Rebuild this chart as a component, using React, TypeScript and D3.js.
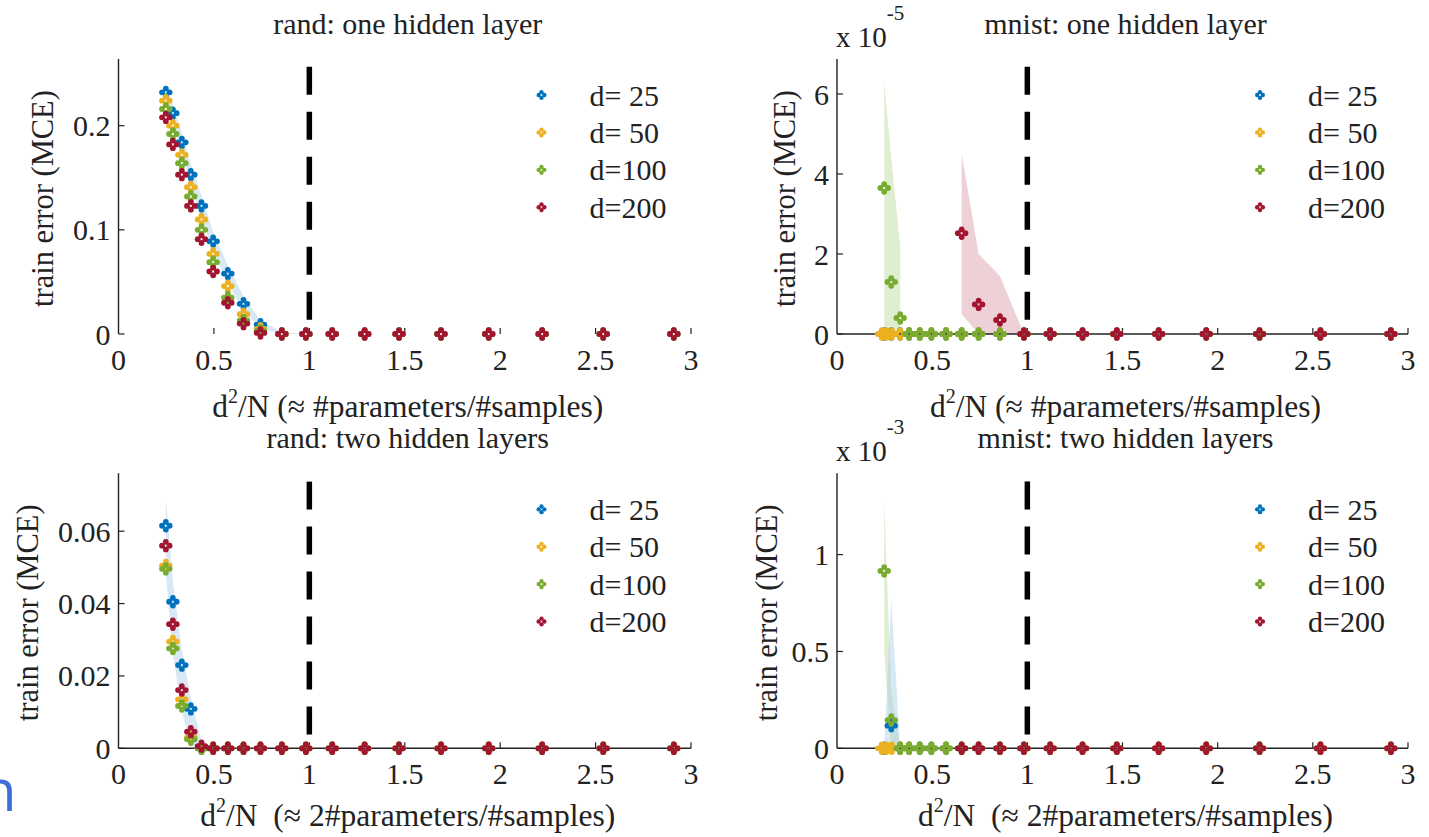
import React from 'react';
import * as d3 from 'd3';

// ---------- data ----------
const seriesColors = ['#0072BD', '#EDB120', '#77AC30', '#A2142F'];
const bandColors = ['#a9cde9', '#f3d98c', '#b9d89a', '#d99aa6'];
const legendLabels = ['d= 25', 'd= 50', 'd=100', 'd=200'];
const xTicks = [0, 0.5, 1, 1.5, 2, 2.5, 3];
const xTickLabels = ['0', '0.5', '1', '1.5', '2', '2.5', '3'];

// d^2/N sample grid
const ratioGrid = [0.248, 0.285, 0.332, 0.379, 0.435, 0.496, 0.573, 0.655, 0.744, 0.856, 0.982, 1.12, 1.29, 1.47, 1.69, 1.94, 2.22, 2.54, 2.91];
const mnistYellowX = [0.235, 0.26, 0.288, 0.332, 0.379, 0.435, 0.496, 0.573, 0.655, 0.744, 0.856, 0.982, 1.12, 1.29, 1.47, 1.69, 1.94, 2.22, 2.54, 2.91];
const mnistRedX = [0.655, 0.744, 0.856, 0.982, 1.12, 1.29, 1.47, 1.69, 1.94, 2.22, 2.54, 2.91];
const bandX3 = [0.248, 0.285, 0.332];
const bandX4 = [0.655, 0.744, 0.856, 0.982];

// rand: one hidden layer
const randOneD25 = [0.232, 0.212, 0.184, 0.153, 0.123, 0.089, 0.058, 0.029, 0.009, 0, 0, 0, 0, 0, 0, 0, 0, 0, 0];
const randOneD50 = [0.224, 0.200, 0.172, 0.141, 0.110, 0.077, 0.046, 0.019, 0.005, 0, 0, 0, 0, 0, 0, 0, 0, 0, 0];
const randOneD100 = [0.216, 0.192, 0.164, 0.132, 0.100, 0.069, 0.035, 0.013, 0.003, 0, 0, 0, 0, 0, 0, 0, 0, 0, 0];
const randOneD200 = [0.208, 0.182, 0.153, 0.123, 0.091, 0.060, 0.030, 0.010, 0.001, 0, 0, 0, 0, 0, 0, 0, 0, 0, 0];
const randOneBandHi = [0.238, 0.220, 0.193, 0.163, 0.133, 0.098, 0.066, 0.036, 0.013, 0.002, 0];
const randOneBandLo = [0.224, 0.203, 0.175, 0.143, 0.113, 0.079, 0.049, 0.022, 0.005, 0, 0];

// mnist: one hidden layer (x 1e-5)
const mnistOneD25 = [0, 0, 0, 0, 0, 0, 0, 0, 0, 0, 0, 0, 0, 0, 0, 0, 0, 0, 0];
const mnistOneD50 = [0, 0, 0, 0, 0, 0, 0, 0, 0, 0, 0, 0, 0, 0, 0, 0, 0, 0, 0, 0];
const mnistOneD100 = [3.65, 1.3, 0.4, 0, 0, 0, 0, 0, 0, 0, 0, 0, 0, 0, 0, 0, 0, 0, 0];
const mnistOneD200 = [2.52, 0.74, 0.35, 0, 0, 0, 0, 0, 0, 0, 0, 0];
const mnistOneGreenHi = [6.3, 4.4, 2.2];
const mnistOneGreenLo = [0.2, 0, 0];
const mnistOneRedHi = [4.5, 2.0, 1.45, 0];
const mnistOneRedLo = [0.5, 0, 0, 0];

// rand: two hidden layers
const randTwoD25 = [0.0615, 0.0405, 0.023, 0.0109, 0, 0, 0, 0, 0, 0, 0, 0, 0, 0, 0, 0, 0, 0, 0];
const randTwoD50 = [0.0505, 0.0295, 0.0135, 0.003, 0, 0, 0, 0, 0, 0, 0, 0, 0, 0, 0, 0, 0, 0, 0];
const randTwoD100 = [0.0496, 0.0276, 0.0117, 0.0025, 0, 0, 0, 0, 0, 0, 0, 0, 0, 0, 0, 0, 0, 0, 0];
const randTwoD200 = [0.056, 0.0343, 0.0161, 0.0046, 0.0006, 0, 0, 0, 0, 0, 0, 0, 0, 0, 0, 0, 0, 0, 0];
const randTwoBandHi = [0.069, 0.046, 0.027, 0.014, 0.002, 0];
const randTwoBandLo = [0.048, 0.026, 0.010, 0.001, 0, 0];

// mnist: two hidden layers (x 1e-3)
const mnistTwoD25 = [0, 0.117, 0, 0, 0, 0, 0, 0, 0, 0, 0, 0, 0, 0, 0, 0, 0, 0, 0];
const mnistTwoD50 = [0, 0, 0, 0, 0, 0, 0, 0, 0, 0, 0, 0, 0, 0, 0, 0, 0, 0, 0, 0];
const mnistTwoD100 = [0.916, 0.146, 0, 0, 0, 0, 0, 0, 0, 0, 0, 0, 0, 0, 0, 0, 0, 0, 0];
const mnistTwoD200 = [0, 0, 0, 0, 0, 0, 0, 0, 0, 0, 0, 0];
const mnistTwoGreenHi = [1.27, 0.3, 0];
const mnistTwoGreenLo = [0.5, 0, 0];
const mnistTwoBlueHi = [0, 0.77, 0];
const mnistTwoBlueLo = [0, 0, 0];

const titles = ['rand: one hidden layer', 'mnist: one hidden layer', 'rand: two hidden layers', 'mnist: two hidden layers'];
const xLabelMain = ['(\u2248 #parameters/#samples)', '(\u2248 #parameters/#samples)', '\u00a0(\u2248 2#parameters/#samples)', '\u00a0(\u2248 2#parameters/#samples)'];
const yLabel = 'train error (MCE)';
const yDomainsMax = [0.264, 6.875, 0.076, 1.42];
const yTicks = [[0, 0.1, 0.2], [0, 2, 4, 6], [0, 0.02, 0.04, 0.06], [0, 0.5, 1]];
const yTickLabels = [['0', '0.1', '0.2'], ['0', '2', '4', '6'], ['0', '0.02', '0.04', '0.06'], ['0', '0.5', '1']];
const exponents = [null, '-5', null, '-3'];
const thresholdX = 1;
const thresholdTop = [0.2566, 6.68, 0.0737, 1.378];

type Series = { x: number[]; y: number[] };
type Band = { x: number[]; lo: number[]; hi: number[]; color: number };

const panelSeries: Series[][] = [
  [
    { x: ratioGrid, y: randOneD25 },
    { x: ratioGrid, y: randOneD50 },
    { x: ratioGrid, y: randOneD100 },
    { x: ratioGrid, y: randOneD200 },
  ],
  [
    { x: ratioGrid, y: mnistOneD25 },
    { x: mnistYellowX, y: mnistOneD50 },
    { x: ratioGrid, y: mnistOneD100 },
    { x: mnistRedX, y: mnistOneD200 },
  ],
  [
    { x: ratioGrid, y: randTwoD25 },
    { x: ratioGrid, y: randTwoD50 },
    { x: ratioGrid, y: randTwoD100 },
    { x: ratioGrid, y: randTwoD200 },
  ],
  [
    { x: ratioGrid, y: mnistTwoD25 },
    { x: mnistYellowX, y: mnistTwoD50 },
    { x: ratioGrid, y: mnistTwoD100 },
    { x: mnistRedX, y: mnistTwoD200 },
  ],
];

const panelBands: Band[][] = [
  [{ x: ratioGrid.slice(0, 11), lo: randOneBandLo, hi: randOneBandHi, color: 0 }],
  [
    { x: bandX3, lo: mnistOneGreenLo, hi: mnistOneGreenHi, color: 2 },
    { x: bandX4, lo: mnistOneRedLo, hi: mnistOneRedHi, color: 3 },
  ],
  [{ x: ratioGrid.slice(0, 6), lo: randTwoBandLo, hi: randTwoBandHi, color: 0 }],
  [
    { x: bandX3, lo: mnistTwoGreenLo, hi: mnistTwoGreenHi, color: 2 },
    { x: bandX3, lo: mnistTwoBlueLo, hi: mnistTwoBlueHi, color: 0 },
  ],
];

// ---------- layout ----------
const FRAMES = [
  { x0: 118.5, x1: 691, yTop: 59, yBase: 334, baseline: false, yLabelOff: 66, xLabelOff: 83 },
  { x0: 837, x1: 1408, yTop: 59, yBase: 334, baseline: true, yLabelOff: 42, xLabelOff: 83 },
  { x0: 118.5, x1: 691, yTop: 473.3, yBase: 748.3, baseline: true, yLabelOff: 81, xLabelOff: 78 },
  { x0: 837, x1: 1408, yTop: 473.3, yBase: 748.3, baseline: true, yLabelOff: 60, xLabelOff: 78 },
];
const SERIF = { fontFamily: 'Liberation Serif, Times New Roman, serif' };
const INK = '#222';

function Marker({ cx, cy, color, s = 1 }: { cx: number; cy: number; color: string; s?: number }) {
  const o = 3.8 * s;
  const r = 2.9 * s;
  return (
    <g fill={color}>
      <circle cx={cx + o} cy={cy} r={r} />
      <circle cx={cx - o} cy={cy} r={r} />
      <circle cx={cx} cy={cy + o} r={r} />
      <circle cx={cx} cy={cy - o} r={r} />
    </g>
  );
}

function Panel({ idx }: { idx: number }) {
  const f = FRAMES[idx];
  const x = d3.scaleLinear().domain([0, 3]).range([f.x0, f.x1]);
  const y = d3.scaleLinear().domain([0, yDomainsMax[idx]]).range([f.yBase, f.yTop]);
  const cxTitle = (f.x0 + f.x1) / 2 + 3;
  const legendX = f.x0 + 423;
  const legendY0 = f.yTop + 36;
  const legendStep = 37.4;
  const area = d3
    .area<[number, number, number]>()
    .x((d) => x(d[0]))
    .y0((d) => y(Math.max(0, d[1])))
    .y1((d) => y(d[2]));
  return (
    <g>
      {panelBands[idx].map((b, i) => (
        <path
          key={'b' + i}
          d={area(b.x.map((xv, k) => [xv, b.lo[k], b.hi[k]] as [number, number, number])) || ''}
          fill={bandColors[b.color]}
          fillOpacity={0.45}
        />
      ))}
      <line x1={f.x0} x2={f.x0} y1={f.yTop} y2={f.yBase} stroke={INK} strokeWidth={1.4} />
      {f.baseline && <line x1={f.x0} x2={f.x1} y1={f.yBase} y2={f.yBase} stroke={INK} strokeWidth={1.4} />}
      {yTicks[idx].map((t, i) => (
        <g key={'yt' + i}>
          <line x1={f.x0} x2={f.x0 + 6} y1={y(t)} y2={y(t)} stroke={INK} strokeWidth={1.2} />
          <text x={f.x0 - 8} y={y(t)} dy="0.35em" textAnchor="end" fontSize={30} style={SERIF} fill={INK}>
            {yTickLabels[idx][i]}
          </text>
        </g>
      ))}
      {xTicks.map((t, i) => (
        <g key={'xt' + i}>
          {i > 0 && <line x1={x(t)} x2={x(t)} y1={f.yBase} y2={f.yBase - 6} stroke={INK} strokeWidth={1.2} />}
          <text x={x(t)} y={f.yBase + 36} textAnchor="middle" fontSize={30} style={SERIF} fill={INK}>
            {xTickLabels[i]}
          </text>
        </g>
      ))}
      <line
        x1={x(thresholdX)}
        x2={x(thresholdX)}
        y1={y(thresholdTop[idx])}
        y2={y(0)}
        stroke="#000"
        strokeWidth={5.5}
        strokeDasharray="28 17"
      />
      {panelSeries[idx].map((s, si) =>
        s.y.map((v, k) => <Marker key={si + '-' + k} cx={x(s.x[k])} cy={y(v)} color={seriesColors[si]} />)
      )}
      {legendLabels.map((l, i) => (
        <g key={'lg' + i}>
          <Marker cx={legendX} cy={legendY0 + i * legendStep} color={seriesColors[i]} s={0.75} />
          <text x={legendX + 48} y={legendY0 + i * legendStep} dy="0.35em" fontSize={30} style={SERIF} fill={INK}>
            {l}
          </text>
        </g>
      ))}
      <text x={cxTitle} y={f.yTop - 25} textAnchor="middle" fontSize={30} style={SERIF} fill={INK}>
        {titles[idx]}
      </text>
      <text x={cxTitle} y={f.yBase + f.xLabelOff} textAnchor="middle" fontSize={31.5} style={SERIF} fill={INK}>
        d<tspan dy={-14} fontSize={20}>2</tspan>
        <tspan dy={14}>/N {xLabelMain[idx]}</tspan>
      </text>
      <text
        transform={`translate(${f.x0 - f.yLabelOff},${(f.yTop + f.yBase) / 2 + 2}) rotate(-90)`}
        textAnchor="middle"
        fontSize={30.5}
        style={SERIF}
        fill={INK}
      >
        {yLabel}
      </text>
      {exponents[idx] && (
        <text x={f.x0 - 1} y={f.yTop - 12} fontSize={29} style={SERIF} fill={INK}>
          x 10<tspan dy={-27} fontSize={21}>{exponents[idx]}</tspan>
        </text>
      )}
    </g>
  );
}

export default function App() {
  return (
    <svg
      width={1429}
      height={837}
      viewBox="0 0 1429 837"
      style={{ position: 'absolute', left: 0, top: 0, background: '#fff' }}
    >
      <rect x={0} y={0} width={1429} height={837} fill="#fff" />
      {FRAMES.map((_, i) => (
        <Panel key={i} idx={i} />
      ))}
      <text x={-19} y={811} fontSize={58} style={{ fontFamily: 'Open Sans, sans-serif' }} fill="#3d6fd6">
        n
      </text>
    </svg>
  );
}
